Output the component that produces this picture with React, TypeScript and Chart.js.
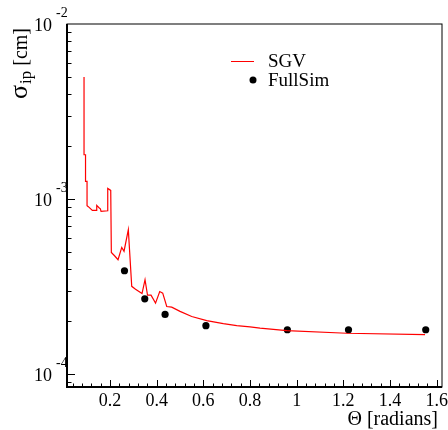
import React, { useEffect, useRef } from "react";
import { Chart, registerables } from "chart.js";

Chart.register(...registerables);

// SGV curve (theta in radians, sigma_ip in cm)
const sgvTheta = [
  0.0887, 0.0887, 0.0951, 0.0951, 0.1016, 0.1016, 0.1071, 0.1243, 0.1401, 0.1431,
  0.153, 0.1586, 0.1616, 0.1903, 0.1903, 0.2031, 0.2057, 0.2194, 0.2344, 0.2503,
  0.2601, 0.2785, 0.2931, 0.3094, 0.3372, 0.3501, 0.3608, 0.3758, 0.3951, 0.4131,
  0.4259, 0.4431, 0.4645, 0.5001, 0.5502, 0.6145, 0.6856, 0.7431, 0.8, 0.8429,
  0.9573, 1.2144, 1.55,
];
const sgvSigma = [
  4.98e-3, 1.79e-3, 1.79e-3, 1.26e-3, 1.26e-3, 9.16e-4, 9.04e-4, 8.61e-4, 8.61e-4, 9.19e-4,
  8.92e-4, 8.8e-4, 8.5e-4, 8.57e-4, 1.15e-3, 1.12e-3, 4.95e-4, 4.74e-4, 4.5e-4, 5.29e-4,
  5.03e-4, 6.68e-4, 3.17e-4, 3.05e-4, 2.88e-4, 3.46e-4, 2.82e-4, 2.82e-4, 2.54e-4, 2.96e-4,
  2.9e-4, 2.43e-4, 2.41e-4, 2.28e-4, 2.13e-4, 2.02e-4, 1.94e-4, 1.89e-4, 1.86e-4, 1.83e-4,
  1.77e-4, 1.71e-4, 1.68e-4,
];

// FullSim points
const fullTheta = [0.262, 0.349, 0.436, 0.611, 0.96, 1.222, 1.553];
const fullSigma = [3.89e-4, 2.69e-4, 2.19e-4, 1.89e-4, 1.79e-4, 1.79e-4, 1.79e-4];

// Axes
const xMin = 0.0157;
const xMax = 1.6227;
const yMin = 8.43e-5;
const yMax = 1e-2;
const xMajorTicks = [0.2, 0.4, 0.6, 0.8, 1.0, 1.2, 1.4, 1.6];
const xTickLabels = ["0.2", "0.4", "0.6", "0.8", "1", "1.2", "1.4", "1.6"];
const xMinorStep = 0.04;
const yDecades = [-4, -3, -2];
const yDecadeLabels = ["-4", "-3", "-2"];

const legendLabels = ["SGV", "FullSim"];
const xTitle = "Θ [radians]";

const SERIF = '"Liberation Serif", "Times New Roman", serif';

const decorPlugin = {
  id: "rootDecor",
  afterDraw(chart: any) {
    const ctx = chart.ctx as CanvasRenderingContext2D;
    const { left, right, top, bottom } = chart.chartArea;
    const xs = chart.scales.x;
    const ys = chart.scales.y;
    ctx.save();

    // frame
    ctx.strokeStyle = "#000";
    ctx.lineWidth = 1;
    ctx.strokeRect(left, top, right - left, bottom - top);
    ctx.lineWidth = 2;
    ctx.beginPath();
    ctx.moveTo(left, top);
    ctx.lineTo(left, bottom);
    ctx.lineTo(right, bottom);
    ctx.stroke();

    // x ticks
    ctx.lineWidth = 1;
    ctx.beginPath();
    for (let i = 1; i * xMinorStep <= xMax + 1e-9; i++) {
      const v = i * xMinorStep;
      if (v < xMin) continue;
      const px = Math.round(xs.getPixelForValue(v)) + 0.5;
      const isMajor = i % 5 === 0;
      const len = isMajor ? 7 : 3.5;
      ctx.moveTo(px, bottom);
      ctx.lineTo(px, bottom - len);
    }
    ctx.stroke();

    // y ticks
    ctx.beginPath();
    for (let d = -5; d <= -2; d++) {
      for (let m = 1; m <= 9; m++) {
        const v = m * Math.pow(10, d);
        if (v < yMin || v >= yMax) continue;
        const py = Math.round(ys.getPixelForValue(v)) + 0.5;
        const len = m === 1 ? 8 : 4.5;
        ctx.moveTo(left, py);
        ctx.lineTo(left + len, py);
      }
    }
    ctx.stroke();

    // x tick labels
    ctx.fillStyle = "#000";
    ctx.font = `18px ${SERIF}`;
    ctx.textAlign = "center";
    ctx.textBaseline = "alphabetic";
    xMajorTicks.forEach((v, i) => {
      ctx.fillText(xTickLabels[i], xs.getPixelForValue(v), bottom + 19);
    });

    // y tick labels
    yDecades.forEach((d, i) => {
      const py = ys.getPixelForValue(Math.pow(10, d));
      ctx.font = `18px ${SERIF}`;
      ctx.textAlign = "right";
      ctx.fillText("10", 52, py + 7);
      ctx.font = `14px ${SERIF}`;
      ctx.textAlign = "left";
      ctx.fillText(yDecadeLabels[i], 56, py - 7);
    });

    // x title
    ctx.font = `20px ${SERIF}`;
    ctx.textAlign = "right";
    ctx.fillText(xTitle, 438, 425);

    // y title (rotated)
    ctx.save();
    ctx.translate(27, 99);
    ctx.rotate(-Math.PI / 2);
    ctx.textAlign = "left";
    let pos = 0;
    ctx.font = `26px ${SERIF}`;
    ctx.fillText("σ", pos, 0);
    pos += ctx.measureText("σ").width + 1;
    ctx.font = `17px ${SERIF}`;
    ctx.fillText("ip", pos, 4);
    pos += ctx.measureText("ip").width;
    ctx.font = `20px ${SERIF}`;
    ctx.fillText(" [cm]", pos, 0);
    ctx.restore();

    // legend
    ctx.strokeStyle = "#ff0000";
    ctx.lineWidth = 1;
    ctx.beginPath();
    ctx.moveTo(231, 61.5);
    ctx.lineTo(254, 61.5);
    ctx.stroke();
    ctx.fillStyle = "#000";
    ctx.beginPath();
    ctx.arc(253, 80, 3.5, 0, Math.PI * 2);
    ctx.fill();
    ctx.font = `19px ${SERIF}`;
    ctx.textAlign = "left";
    ctx.fillText(legendLabels[0], 268, 67);
    ctx.fillText(legendLabels[1], 268, 86);

    ctx.restore();
  },
};

export default function App() {
  const ref = useRef<HTMLCanvasElement | null>(null);
  useEffect(() => {
    if (!ref.current) return;
    const chart = new Chart(ref.current, {
      type: "scatter",
      data: {
        datasets: [
          {
            label: legendLabels[0],
            data: sgvTheta.map((t, i) => ({ x: t, y: sgvSigma[i] })),
            showLine: true,
            borderColor: "#ff0000",
            borderWidth: 1.2,
            pointRadius: 0,
            tension: 0,
            fill: false,
          },
          {
            label: legendLabels[1],
            data: fullTheta.map((t, i) => ({ x: t, y: fullSigma[i] })),
            showLine: false,
            backgroundColor: "#000",
            borderColor: "#000",
            borderWidth: 0,
            pointRadius: 3.6,
          },
        ],
      },
      options: {
        responsive: false,
        animation: false,
        devicePixelRatio: 1,
        layout: { padding: { left: 0, top: 24, right: 6, bottom: 0 } },
        plugins: { legend: { display: false }, tooltip: { enabled: false } },
        scales: {
          x: {
            type: "linear",
            min: xMin,
            max: xMax,
            grid: { display: false },
            border: { display: false },
            ticks: { display: false },
            afterFit: (s: any) => {
              s.height = 43;
            },
          },
          y: {
            type: "logarithmic",
            min: yMin,
            max: yMax,
            grid: { display: false },
            border: { display: false },
            ticks: { display: false },
            afterFit: (s: any) => {
              s.width = 67;
            },
          },
        },
      },
      plugins: [decorPlugin],
    });
    return () => chart.destroy();
  }, []);
  return (
    <div style={{ position: "absolute", left: 0, top: 0, width: 448, height: 430, background: "#fff" }}>
      <canvas ref={ref} width={448} height={430} />
    </div>
  );
}
